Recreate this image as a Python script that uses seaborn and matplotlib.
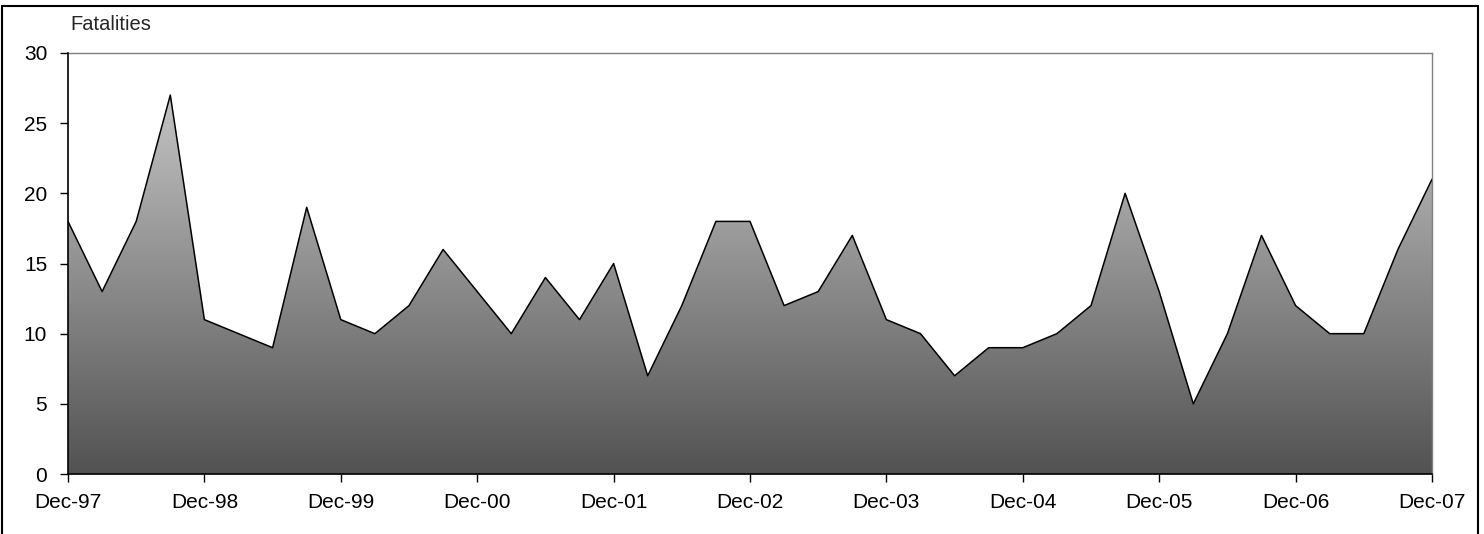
import numpy as np
import pandas as pd
import matplotlib
matplotlib.use("Agg")
import matplotlib.pyplot as plt
import seaborn as sns
from matplotlib.lines import Line2D

# Quarterly fatalities, Dec-97 .. Dec-07
quarters = pd.date_range("1997-12-01", "2007-12-01", freq="3MS")
fatalities = [18, 13, 18, 27, 11, 10, 9, 19, 11, 10, 12, 16, 13, 10, 14, 11, 15,
              7, 12, 18, 18, 12, 13, 17, 11, 10, 7, 9, 9, 10, 12, 20, 13, 5, 10,
              17, 12, 10, 10, 16, 21]
tick_labels = ["Dec-97", "Dec-98", "Dec-99", "Dec-00", "Dec-01", "Dec-02",
               "Dec-03", "Dec-04", "Dec-05", "Dec-06", "Dec-07"]

df = pd.DataFrame({"idx": np.arange(len(quarters)), "Fatalities": fatalities})

sns.set_style("white")
plt.rcParams["font.family"] = ["Liberation Sans", "DejaVu Sans"]

fig = plt.figure(figsize=(14.84, 5.34), dpi=100)
ax = fig.add_axes([68 / 1484, 1 - 474 / 534, (1432 - 68) / 1484, (474 - 53) / 534])

# gradient fill under the line
poly = ax.fill_between(df["idx"], df["Fatalities"], 0, color="none", lw=0)
grad = np.linspace(0, 1, 256).reshape(-1, 1)
cmap = matplotlib.colors.LinearSegmentedColormap.from_list("g", ["#525252", "#c4c4c4"])
img = ax.imshow(grad, cmap=cmap, aspect="auto", origin="lower",
                extent=[0, len(df) - 1, 0, max(fatalities)], zorder=1)
img.set_clip_path(poly.get_paths()[0], transform=ax.transData)

sns.lineplot(data=df, x="idx", y="Fatalities", ax=ax, color="black", lw=1.1, zorder=3)

ax.set_xlim(0, len(df) - 1)
ax.set_ylim(0, 30)
ax.set_yticks(range(0, 31, 5))
ax.set_xticks(df["idx"][::4])
ax.set_xticklabels(tick_labels)
ax.set_xlabel("")
ax.set_ylabel("")

for s in ["top", "right"]:
    ax.spines[s].set_color("#808080")
    ax.spines[s].set_linewidth(1.0)
for s in ["left", "bottom"]:
    ax.spines[s].set_color("black")
    ax.spines[s].set_linewidth(1.2)
    ax.spines[s].set_zorder(4)

ax.tick_params(axis="both", direction="out", length=6, width=1, colors="black",
               labelsize=15)
ax.tick_params(axis="y", pad=9)
ax.tick_params(axis="x", pad=8)
ax.tick_params(top=False, right=False, left=True, bottom=True)

fig.text(70 / 1484, 1 - 25 / 534, "Fatalities", fontsize=14.5, va="center", ha="left")

# outer chart frame (left, top, right)
for xs, ys in [([2, 2], [534, 6]), ([2, 1478], [6, 6]), ([1478, 1478], [6, 534])]:
    fig.add_artist(Line2D([x / 1484 for x in xs], [1 - y / 534 for y in ys],
                          color="black", lw=1.5, transform=fig.transFigure))

fig.savefig("out.png", dpi=100)
